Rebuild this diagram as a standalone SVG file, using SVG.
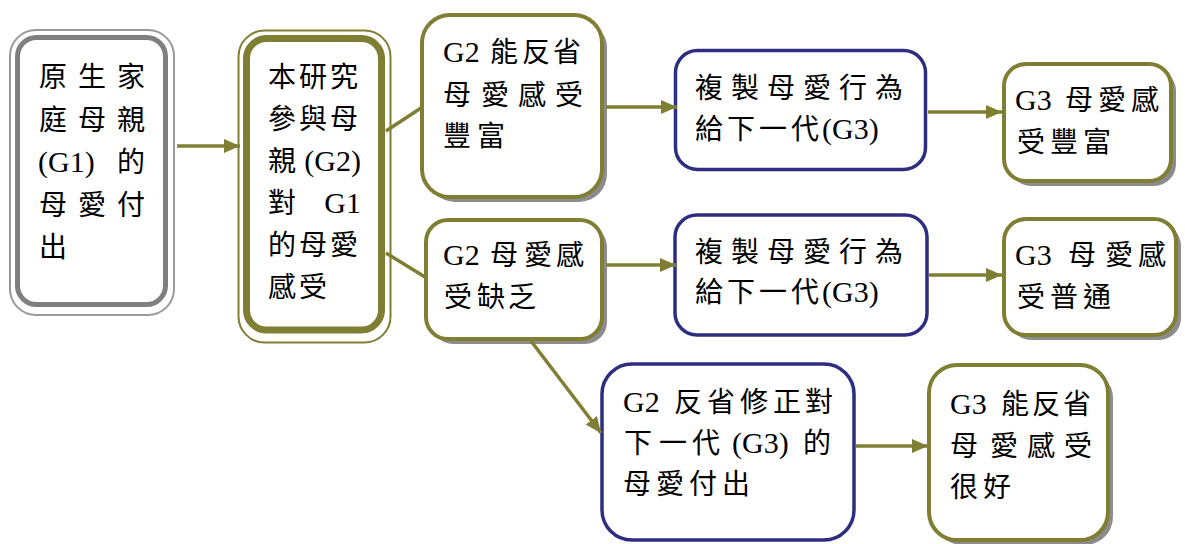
<svg xmlns="http://www.w3.org/2000/svg" width="1185" height="544" viewBox="0 0 1185 544">
<style>
.t{font-family:"Liberation Serif","Noto Sans CJK TC",serif;font-size:28px;fill:#000}
.l{font-family:"Liberation Serif","Times New Roman",serif;font-size:30px}
.box{fill:#fff}
.ol{stroke:#7F7F33;stroke-width:4}
.nv{stroke:#2E2E80;stroke-width:3.5}
.sh{fill:#8C8C8C}
.c{stroke:#7F7F33;stroke-width:3.5;fill:none}
.a{marker-end:url(#ah)}
</style>
<defs>
<marker id="ah" markerUnits="userSpaceOnUse" markerWidth="16" markerHeight="14" refX="16" refY="7" orient="auto">
<path d="M0,0 L16,7 L0,14 z" fill="#7F7F33"/>
</marker>
</defs>
<rect width="1185" height="544" fill="#fff"/>

<g id="n1">
<rect x="10" y="30" width="164" height="285" rx="26" fill="#fff" stroke="#999999" stroke-width="2"/>
<rect x="17.5" y="37.5" width="148" height="267" rx="19" fill="#fff" stroke="#7F7F7F" stroke-width="5"/>
<text class="t" x="39 78 117" y="87">原生家</text>
<text class="t" x="39 78 117" y="129.5">庭母親</text>
<text class="t" y="172"><tspan class="l" x="38">(G1)</tspan><tspan x="117">的</tspan></text>
<text class="t" x="39 78 117" y="214.5">母愛付</text>
<text class="t" x="39" y="257">出</text>
</g>

<g id="n2">
<rect x="238.5" y="30.5" width="152" height="312" rx="26" fill="#fff" stroke="#7F7F33" stroke-width="2"/>
<rect x="246.5" y="38.5" width="135" height="291.5" rx="20" fill="#fff" stroke="#7F7F33" stroke-width="7"/>
<text class="t" x="268 299 330" y="87">本研究</text>
<text class="t" x="268 299 330" y="129">參與母</text>
<text class="t" y="171"><tspan x="268">親</tspan><tspan class="l" x="361" text-anchor="end">(G2)</tspan></text>
<text class="t" y="213"><tspan x="268">對</tspan><tspan class="l" x="361" text-anchor="end">G1</tspan></text>
<text class="t" x="268 299 330" y="255">的母愛</text>
<text class="t" x="268 299" y="297">感受</text>
</g>

<g id="n3">
<rect class="sh" x="427" y="20" width="180" height="182" rx="28"/>
<rect class="box ol" x="422" y="15" width="180" height="182" rx="28"/>
<text class="t" y="62"><tspan class="l" x="443">G2</tspan><tspan x="490 522 553">能反省</tspan></text>
<text class="t" x="443 481 518 555" y="105">母愛感受</text>
<text class="t" x="443 477" y="146">豐富</text>
</g>

<g id="n4">
<rect class="sh" x="431" y="225" width="176" height="119" rx="22"/>
<rect class="box ol" x="426" y="220" width="176" height="119" rx="22"/>
<text class="t" y="265"><tspan class="l" x="443">G2</tspan><tspan x="490 524 556">母愛感</tspan></text>
<text class="t" x="444 477 508" y="307">受缺乏</text>
</g>

<g id="n5">
<rect class="box nv" x="675.5" y="50.5" width="250" height="119" rx="22"/>
<text class="t" x="695 731 767 803 839 875" y="98">複製母愛行為</text>
<text class="t" y="139"><tspan x="695 727 759 791">給下一代</tspan><tspan class="l" x="822">(G3)</tspan></text>
</g>

<g id="n6">
<rect class="box nv" x="675" y="215" width="252" height="120" rx="22"/>
<text class="t" x="695 731 767 803 839 875" y="262">複製母愛行為</text>
<text class="t" y="302"><tspan x="695 727 759 791">給下一代</tspan><tspan class="l" x="822">(G3)</tspan></text>
</g>

<g id="n7">
<rect class="sh" x="1009" y="69" width="167" height="117" rx="22"/>
<rect class="box ol" x="1004" y="64" width="167" height="117" rx="22"/>
<text class="t" y="110"><tspan class="l" x="1015">G3</tspan><tspan x="1065 1098 1131">母愛感</tspan></text>
<text class="t" x="1017 1050 1083" y="152">受豐富</text>
</g>

<g id="n8">
<rect class="sh" x="1009" y="224" width="172" height="116" rx="22"/>
<rect class="box ol" x="1004" y="219" width="172" height="116" rx="22"/>
<text class="t" y="265"><tspan class="l" x="1015">G3</tspan><tspan x="1068 1105 1138">母愛感</tspan></text>
<text class="t" x="1017 1050 1083" y="307">受普通</text>
</g>

<g id="n9">
<rect class="box nv" x="602" y="364" width="252" height="176" rx="30"/>
<text class="t" y="412"><tspan class="l" x="623">G2</tspan><tspan x="674 707 740 773 805">反省修正對</tspan></text>
<text class="t" y="453"><tspan x="624 659 692">下一代</tspan><tspan class="l" x="732">(G3)</tspan><tspan x="803">的</tspan></text>
<text class="t" x="623 656 689 722" y="494">母愛付出</text>
</g>

<g id="n10">
<rect class="sh" x="934" y="370" width="179" height="175" rx="28"/>
<rect class="box ol" x="929" y="365" width="179" height="175" rx="28"/>
<text class="t" y="414"><tspan class="l" x="950">G3</tspan><tspan x="1001 1032 1063">能反省</tspan></text>
<text class="t" x="950 990 1027 1064" y="456">母愛感受</text>
<text class="t" x="950 983" y="497">很好</text>
</g>

<g id="connectors">
<line class="c a" x1="177" y1="146" x2="240" y2="146"/>
<line class="c" x1="386" y1="131" x2="421" y2="108"/>
<line class="c" x1="386" y1="253" x2="425" y2="277"/>
<line class="c a" x1="606" y1="107" x2="677" y2="107"/>
<line class="c a" x1="606" y1="265" x2="676" y2="265"/>
<line class="c a" x1="928" y1="112" x2="1002" y2="112"/>
<line class="c a" x1="929" y1="275" x2="1002" y2="275"/>
<line class="c a" x1="531" y1="341" x2="601" y2="433"/>
<line class="c a" x1="856" y1="446" x2="928" y2="446"/>
</g>
</svg>
